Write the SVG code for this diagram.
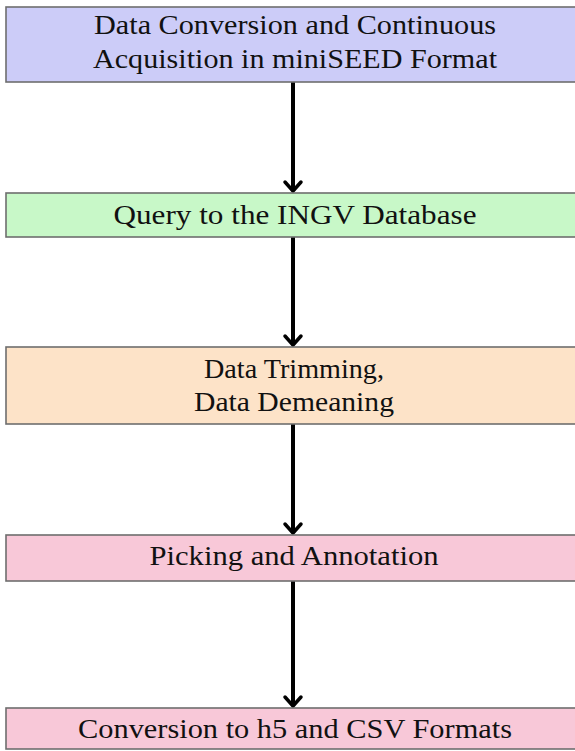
<svg xmlns="http://www.w3.org/2000/svg" width="575" height="751" viewBox="0 0 575 751">
<defs>
<style>
.box{stroke:#6e6e6e;stroke-width:1.6}
text{font-family:'Liberation Serif','DejaVu Serif','Times New Roman',serif;font-size:27px;fill:#111111;text-anchor:middle}
.c{stroke:#000;stroke-width:4;fill:none}
.h{stroke:#000;stroke-width:3.5;fill:none;stroke-linecap:round;stroke-linejoin:round}
</style>
</defs>
<rect x="0" y="0" width="575" height="751" fill="#ffffff"/>
<g id="connectors">
<line class="c" x1="293" y1="82" x2="293" y2="191"/>
<path class="h" d="M285,182 L293,191 L301,182"/>
<line class="c" x1="293" y1="237" x2="293" y2="345"/>
<path class="h" d="M285,336 L293,345 L301,336"/>
<line class="c" x1="293" y1="424" x2="293" y2="533"/>
<path class="h" d="M285,524 L293,533 L301,524"/>
<line class="c" x1="293" y1="581" x2="293" y2="706"/>
<path class="h" d="M285,697 L293,706 L301,697"/>
</g>
<g id="n1">
<rect class="box" x="6" y="7" width="590" height="75" fill="#ccccf8"/>
<text x="295" y="34" textLength="402" lengthAdjust="spacingAndGlyphs">Data Conversion and Continuous</text>
<text x="295" y="68" textLength="404" lengthAdjust="spacingAndGlyphs">Acquisition in miniSEED Format</text>
</g>
<g id="n2">
<rect class="box" x="6" y="193" width="590" height="44" fill="#c8f8c8"/>
<text x="295" y="224" textLength="363" lengthAdjust="spacingAndGlyphs">Query to the INGV Database</text>
</g>
<g id="n3">
<rect class="box" x="6" y="347" width="590" height="77" fill="#fde3c8"/>
<text x="294" y="378" textLength="180" lengthAdjust="spacingAndGlyphs">Data Trimming,</text>
<text x="294" y="411" textLength="200" lengthAdjust="spacingAndGlyphs">Data Demeaning</text>
</g>
<g id="n4">
<rect class="box" x="6" y="535" width="590" height="46" fill="#f8c8d8"/>
<text x="294" y="565" textLength="289" lengthAdjust="spacingAndGlyphs">Picking and Annotation</text>
</g>
<g id="n5">
<rect class="box" x="6" y="708" width="590" height="41" fill="#f8c8d8"/>
<text x="295" y="738" textLength="434" lengthAdjust="spacingAndGlyphs">Conversion to h5 and CSV Formats</text>
</g>
</svg>
